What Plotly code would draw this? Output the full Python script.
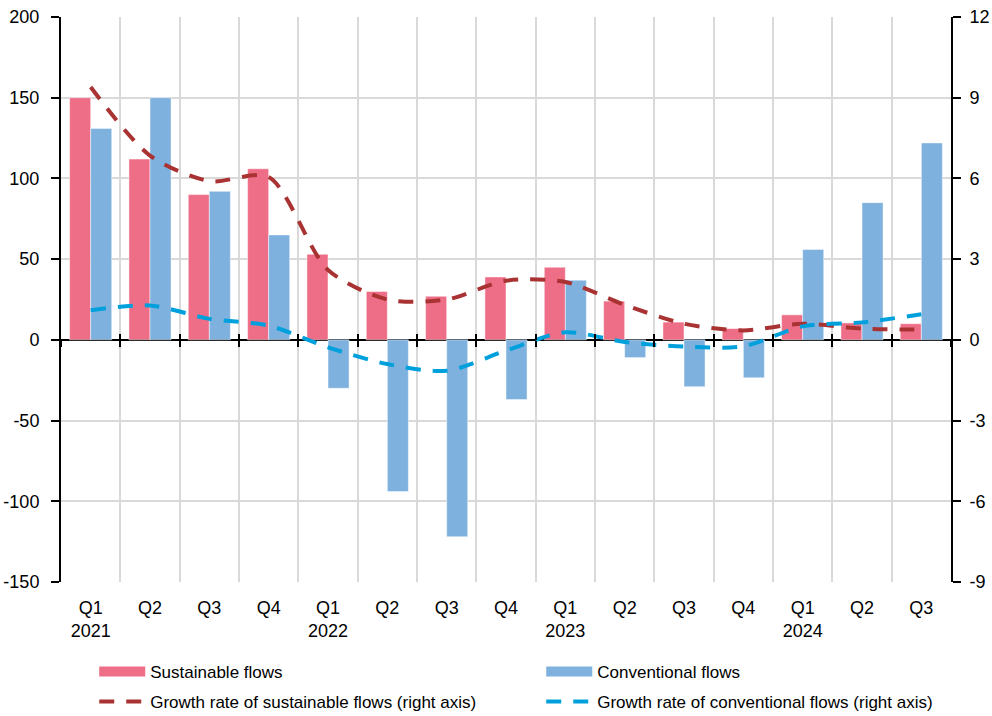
import plotly.graph_objects as go

# Quarterly periods (unique ids) and their axis labels
periods = ["2021Q1", "2021Q2", "2021Q3", "2021Q4",
           "2022Q1", "2022Q2", "2022Q3", "2022Q4",
           "2023Q1", "2023Q2", "2023Q3", "2023Q4",
           "2024Q1", "2024Q2", "2024Q3"]
period_labels = ["Q1<br>2021", "Q2", "Q3", "Q4",
                 "Q1<br>2022", "Q2", "Q3", "Q4",
                 "Q1<br>2023", "Q2", "Q3", "Q4",
                 "Q1<br>2024", "Q2", "Q3"]

# Flows (left axis)
sustainable_flows = [150, 112, 90, 106, 53, 30, 27, 39, 45, 24, 11, 7, 15.5, 10.5, 10]
conventional_flows = [131, 150, 92, 65, -30, -94, -122, -37, 37, -11, -29, -23.5, 56, 85, 122]

# Growth rates (right axis)
growth_sustainable = [9.4, 6.85, 5.9, 6.05, 2.6, 1.5, 1.5, 2.2, 2.15, 1.3, 0.6, 0.35, 0.6, 0.42, 0.38]
growth_conventional = [1.1, 1.28, 0.78, 0.53, -0.28, -0.9, -1.15, -0.4, 0.28, -0.08, -0.25, -0.24, 0.5, 0.65, 0.95]

left_ticks = [200, 150, 100, 50, 0, -50, -100, -150]
right_ticks = [12, 9, 6, 3, 0, -3, -6, -9]

PINK = "#EE6E87"
BLUE = "#7FB1DF"
DARK_RED = "#A93232"
CYAN = "#00A0DC"
GRID = "#D9D9D9"
FONT = "Liberation Sans, Arial, sans-serif"
DASH = "15px,12px"

fig = go.Figure()

fig.add_trace(go.Bar(
    x=periods, y=sustainable_flows, name="Sustainable flows", legendgroup="sust",
    showlegend=False,
    marker=dict(color=PINK, line=dict(color="rgba(255,255,255,0.6)", width=0.8)),
))
fig.add_trace(go.Bar(
    x=periods, y=conventional_flows, name="Conventional flows", legendgroup="conv",
    showlegend=False,
    marker=dict(color=BLUE, line=dict(color="rgba(255,255,255,0.6)", width=0.8)),
))

# Legend keys for the bar series, shown as wide colour bands
for name, color, group in (("Sustainable flows", PINK, "sust"),
                           ("Conventional flows", BLUE, "conv")):
    fig.add_trace(go.Scatter(
        x=[periods[0]], y=[None], mode="lines", name=name, legendgroup=group,
        line=dict(color=color, width=10), hoverinfo="skip", legend="legend",
    ))

fig.add_trace(go.Scatter(
    x=periods, y=growth_sustainable, yaxis="y2", mode="lines",
    name="Growth rate of sustainable flows (right axis)", legend="legend2",
    line=dict(color=DARK_RED, width=4, dash=DASH, shape="spline", smoothing=0.8),
))
fig.add_trace(go.Scatter(
    x=periods, y=growth_conventional, yaxis="y2", mode="lines",
    name="Growth rate of conventional flows (right axis)", legend="legend2",
    line=dict(color=CYAN, width=4, dash=DASH, shape="spline", smoothing=0.8),
))

# Invisible carriers for the tick marks drawn across the zero line
for ax in ("x2", "x3"):
    fig.add_trace(go.Scatter(
        x=periods, y=[0] * len(periods), xaxis=ax, mode="lines",
        line=dict(width=0), opacity=0, showlegend=False, hoverinfo="skip",
    ))

zero_pos = 150 / 350  # position of y=0 within the plot height

tick_axis = dict(
    type="category", overlaying="x", anchor="free", position=zero_pos,
    range=[-0.5, len(periods) - 0.5], tickson="boundaries",
    ticklen=6, tickwidth=1.5, tickcolor="black", automargin=False,
    showticklabels=False, showgrid=False, showline=False, zeroline=False,
)

legend_row = dict(
    orientation="h", xref="container", yref="container",
    x=0.095, xanchor="left", yanchor="top",
    entrywidth=386, entrywidthmode="pixels", itemwidth=46,
    font=dict(size=17), traceorder="normal", bgcolor="rgba(0,0,0,0)",
)

fig.update_layout(
    width=992, height=716,
    margin=dict(l=61, r=41, t=17, b=134),
    paper_bgcolor="white", plot_bgcolor="white",
    barmode="group", bargap=0.29, bargroupgap=0,
    font=dict(family=FONT, size=17, color="black"),
    xaxis=dict(
        type="category", range=[-0.5, len(periods) - 0.5],
        tickmode="array", tickvals=periods, ticktext=period_labels,
        tickson="boundaries", ticks="", showgrid=True, gridcolor=GRID, gridwidth=1.5,
        showline=False, zeroline=False, ticklabelstandoff=13, automargin=False,
        tickfont=dict(size=18),
    ),
    xaxis2=dict(tick_axis, ticks="outside"),
    xaxis3=dict(tick_axis, ticks="inside"),
    yaxis=dict(
        range=[-150, 200], tickmode="array", tickvals=left_ticks,
        ticktext=[str(v) for v in left_ticks],
        showgrid=True, gridcolor=GRID, gridwidth=1.5,
        zeroline=True, zerolinecolor="black", zerolinewidth=2,
        showline=True, linecolor="black", linewidth=2,
        ticks="outside", ticklen=8, tickwidth=2, tickcolor="black",
        ticklabelstandoff=8, automargin=False, tickfont=dict(size=18),
    ),
    yaxis2=dict(
        range=[-9, 12], overlaying="y", side="right", tickmode="array", tickvals=right_ticks,
        ticktext=[str(v) for v in right_ticks],
        showgrid=False, zeroline=False,
        showline=True, linecolor="black", linewidth=2,
        ticks="outside", ticklen=8, tickwidth=2, tickcolor="black",
        ticklabelstandoff=5, automargin=False, tickfont=dict(size=18),
    ),
    legend=dict(legend_row, y=0.0866),
    legend2=dict(legend_row, y=0.0447),
    showlegend=True,
)

fig.write_html("out.html")
